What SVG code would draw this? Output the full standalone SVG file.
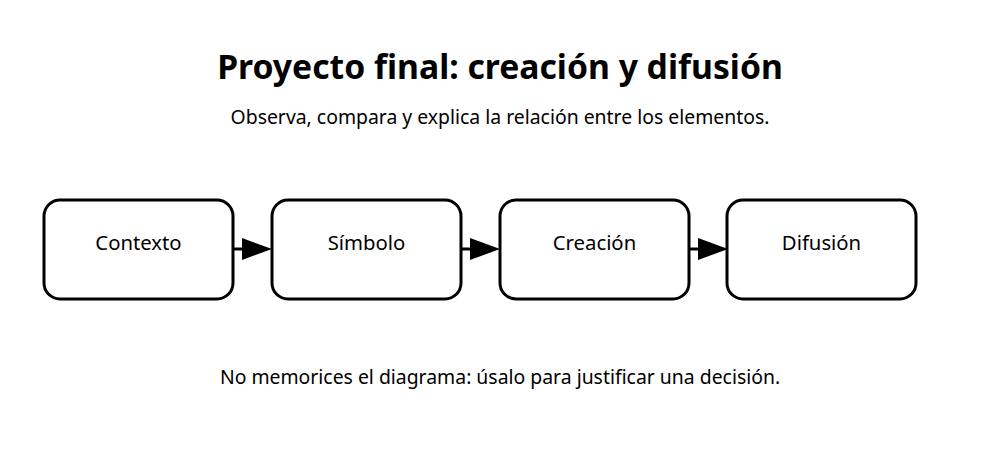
<svg xmlns="http://www.w3.org/2000/svg" width="1000" height="467" viewBox="0 0 1000 467">
<style>
text{font-family:"Noto Sans","Open Sans","DejaVu Sans",sans-serif;fill:#000;text-anchor:middle}
.title{font-size:33.7px;font-weight:bold}
.sub{font-size:19.4px}
.lbl{font-size:20.3px}
.box{fill:#fff;stroke:#000;stroke-width:3}
.conn{stroke:#000;stroke-width:3;fill:none}
</style>
<rect width="1000" height="467" fill="#fff"/>
<text class="title" x="500" y="79">Proyecto final: creación y difusión</text>
<text class="sub" x="500" y="124">Observa, compara y explica la relación entre los elementos.</text>
<g id="connectors">
<line class="conn" x1="234" y1="249" x2="244" y2="249"/>
<path d="M242,238 L272,249 L242,260 Z"/>
<line class="conn" x1="462" y1="249" x2="472" y2="249"/>
<path d="M470,238 L500,249 L470,260 Z"/>
<line class="conn" x1="690" y1="249" x2="700" y2="249"/>
<path d="M698,238 L728,249 L698,260 Z"/>
</g>
<g id="n1"><rect class="box" x="44" y="200" width="189" height="99" rx="16"/><text class="lbl" x="138.5" y="250">Contexto</text></g>
<g id="n2"><rect class="box" x="272" y="200" width="189" height="99" rx="16"/><text class="lbl" x="366.5" y="250">Símbolo</text></g>
<g id="n3"><rect class="box" x="500" y="200" width="189" height="99" rx="16"/><text class="lbl" x="594.5" y="250">Creación</text></g>
<g id="n4"><rect class="box" x="727" y="200" width="189" height="99" rx="16"/><text class="lbl" x="821.5" y="250">Difusión</text></g>
<text class="sub" x="500" y="384">No memorices el diagrama: úsalo para justificar una decisión.</text>
</svg>
